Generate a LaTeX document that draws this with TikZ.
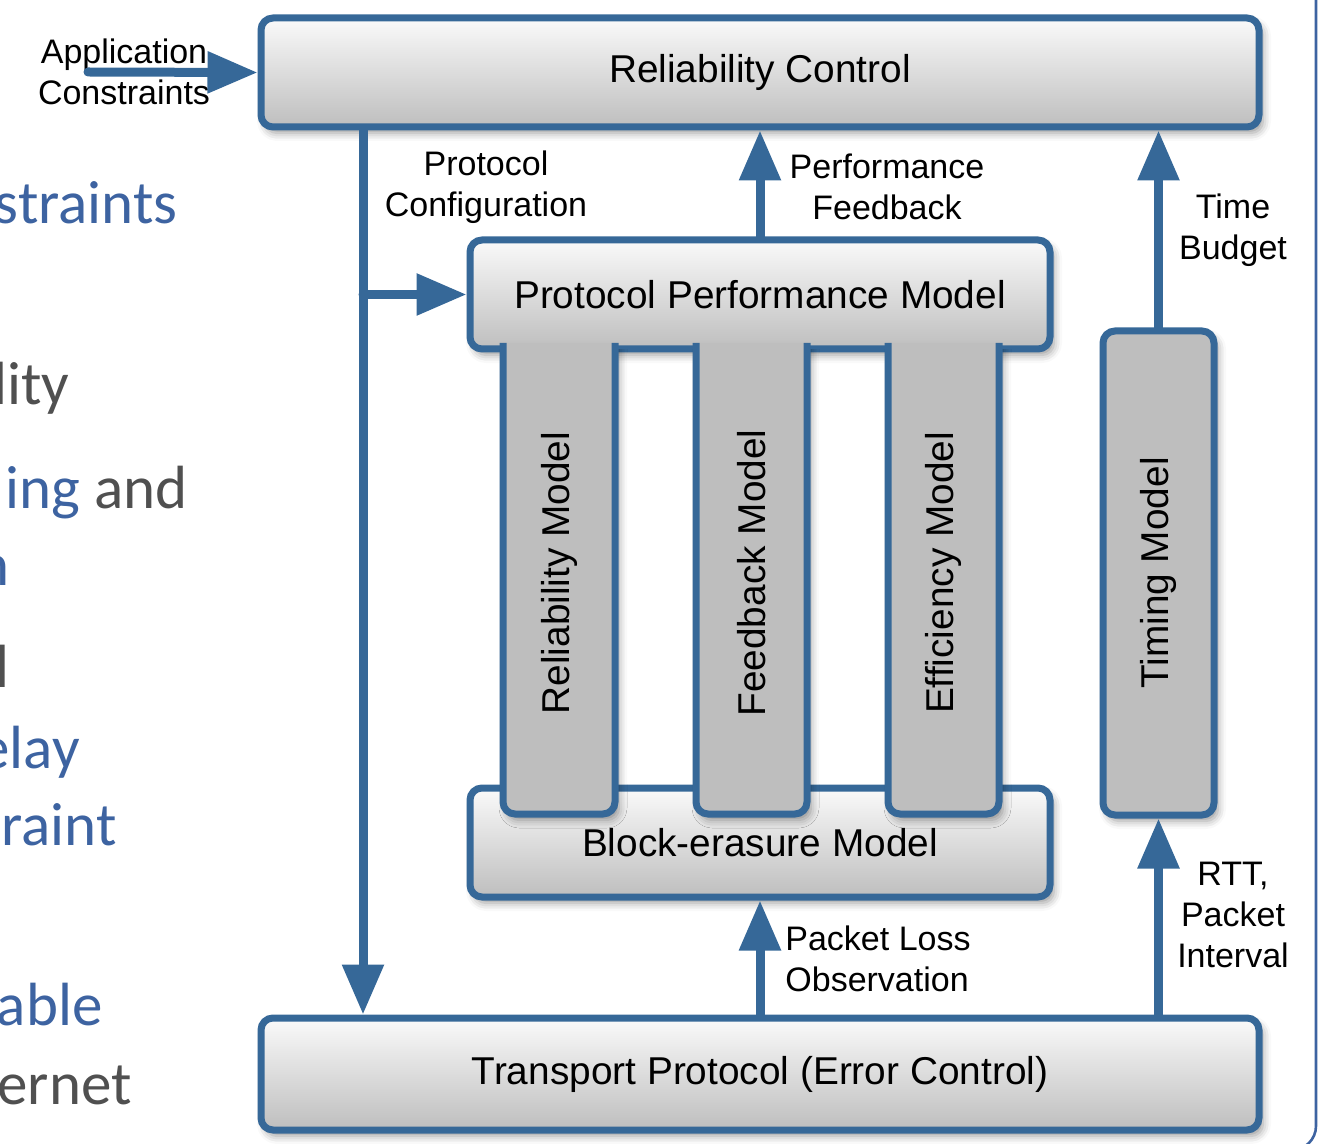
\documentclass[tikz,border=0pt]{standalone}
\usepackage{fontspec}
\setmainfont{Liberation Sans}
\newfontfamily\slidefont{Carlito}
\usetikzlibrary{arrows.meta,shadows.blur}
\definecolor{edgeblue}{RGB}{54,104,152}
\definecolor{slideblue}{RGB}{61,99,161}
\definecolor{slidegrey}{RGB}{80,80,80}
\definecolor{boxtop}{RGB}{250,250,250}
\definecolor{boxbot}{RGB}{190,190,190}
\definecolor{pillargrey}{RGB}{190,190,190}
\tikzset{
  softshadow/.style={blur shadow={shadow xshift=2pt,shadow yshift=-3pt,shadow blur radius=4pt,shadow opacity=40}},
  box/.style={draw=edgeblue,line width=3.5pt,rounded corners=6pt,top color=boxtop,bottom color=boxbot,
    softshadow,font=\fontsize{19.4}{23}\selectfont},
  pillar/.style={draw=edgeblue,line width=3.5pt,fill=pillargrey,rounded corners=6pt,softshadow},
  vlabel/.style={rotate=90,font=\fontsize{19.4}{23}\selectfont,inner sep=0pt},
  lbl/.style={font=\fontsize{17}{20.5}\selectfont,align=center,inner sep=0pt},
  flow/.style={draw=edgeblue,line width=4.5pt,line cap=round,-{Triangle[length=25pt,width=20pt]}},
  slide/.style={font=\slidefont\fontsize{30.5}{36}\selectfont,anchor=base east,inner sep=0pt},
  frame/.style={draw=slideblue,line width=1.3pt,rounded corners=12pt}
}
\begin{document}
\begin{tikzpicture}[x=0.5pt,y=-0.5pt]
  \useasboundingbox (0,0) rectangle (1329,1144);
  \clip (0,0) rectangle (1329,1144);
  % slide text behind the diagram
  \node[slide,text=slideblue] (cutA) at (178,224) {straints};
  \node[slide,text=slidegrey] (cutB) at (70,405) {lity};
  \node[slide,text=slidegrey] (cutC) at (188,509) {\textcolor{slideblue}{ing} and};
  \node[slide,text=slideblue] (cutD) at (10,586) {n};
  \node[slide,text=slidegrey] (cutE) at (10,688) {l};
  \node[slide,text=slideblue] (cutF) at (80,768) {elay};
  \node[slide,text=slideblue] (cutG) at (117,845) {raint};
  \node[slide,text=slideblue] (cutH) at (103,1025) {able};
  \node[slide,text=slidegrey] (cutI) at (132,1104) {ernet};
  \draw[frame] (1316,-20) -- (1316,1150) -- (1100,1150);

  \node[box,minimum width=499pt,minimum height=54.5pt] (rc) at (760,72.5) {Reliability Control};
  \node[box,minimum width=290pt,minimum height=54.5pt] (ppm) at (760,294.5) {Protocol Performance Model};
  \node[box,minimum width=290pt,minimum height=54.5pt] (bem) at (760,842.5) {Block-erasure Model};
  \node[box,minimum width=499pt,minimum height=56pt] (tp) at (760,1074) {Transport Protocol (Error Control)};

  \foreach \l/\r in {503/615,696/807,888/999}
    \filldraw[pillar] (\l,343) -- (\l,814) -- (\r,814) -- (\r,343);
  \node[vlabel] (relm) at (559,573) {Reliability Model};
  \node[vlabel] (fbm) at (752,573) {Feedback Model};
  \node[vlabel] (effm) at (943,573) {Efficiency Model};
  \node[pillar,rotate=90,minimum width=242pt,minimum height=55.5pt,
    font=\fontsize{19.4}{23}\selectfont] (tm) at (1158.5,573) {Timing Model};

  \node[lbl] (applbl) at (124,72) {Application\\Constraints};
  \node[lbl] (cfglbl) at (486,187) {Protocol\\Configuration};
  \node[lbl] (perflbl) at (887,187) {Performance\\Feedback};
  \node[lbl] (timelbl) at (1233,230) {Time\\Budget};
  \node[lbl] (rttlbl) at (1233,915) {RTT,\\Packet\\Interval};
  \node[lbl,align=left,anchor=west] (losslbl) at (785,959) {Packet Loss\\Observation};

  \coordinate (appstart) at (88,72);
  \coordinate (cfg) at (363,0);
  \draw[flow] (appstart) -- (rc.west);
  \draw[flow] (rc.south -| cfg) -- (tp.north -| cfg);
  \draw[flow] (ppm.west -| cfg) -- (ppm.west);
  \draw[flow] (ppm.north) -- (rc.south);
  \draw[flow] (tm.east) -- (rc.south -| tm.east);
  \draw[flow] (tp.north -| tm.east) -- (tm.west);
  \draw[flow] (tp.north) -- (bem.south);
\end{tikzpicture}
\end{document}
